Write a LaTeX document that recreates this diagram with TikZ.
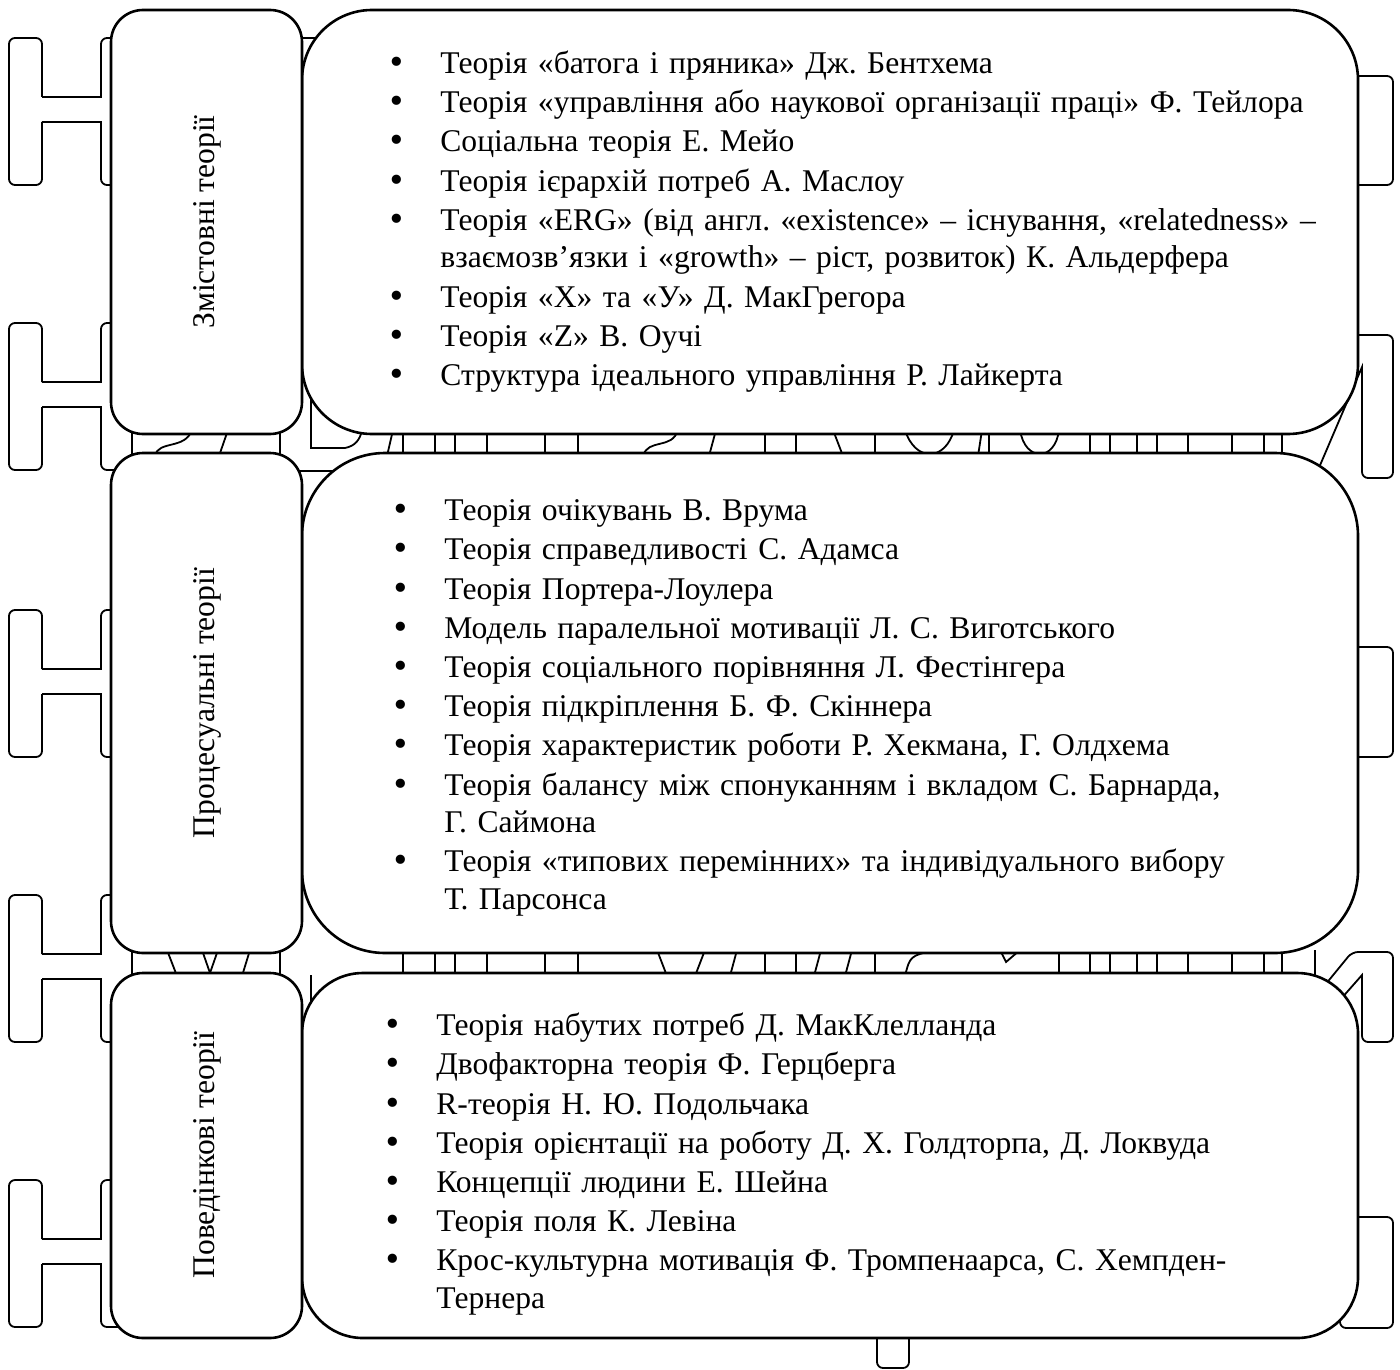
\documentclass[tikz,border=0pt]{standalone}
\usepackage{fontspec}
\setmainfont{Liberation Serif}
\newfontfamily\bulletfont{DejaVu Sans}
\usepackage{tikz}
\frenchspacing

\newcommand{\bul}{{\bulletfont •}}
\newenvironment{theories}{%
  \begin{list}{\bul}{%
    \setlength{\leftmargin}{0pt}%
    \setlength{\labelwidth}{14pt}%
    \setlength{\labelsep}{17pt}%
    \setlength{\itemsep}{0.8pt}%
    \setlength{\parsep}{0pt}%
    \setlength{\topsep}{0pt}}}%
  {\end{list}}

\begin{document}
\begin{tikzpicture}[x=0.5pt,y=-0.5pt,
  bgline/.style={draw=black,line width=0.9pt},
  lbox/.style={draw=black,fill=white,line width=1.3pt,rounded corners=16pt},
  rbox/.style={draw=black,fill=white,line width=1.3pt},
  side/.style={rotate=90,inner sep=0pt,font=\fontsize{15.8pt}{18.8pt}\selectfont},
  items/.style={anchor=base west,inner sep=0pt,text width=480pt,font=\fontsize{15.8pt}{18.8pt}\selectfont}]
\useasboundingbox (0,0) rectangle (1400,1369);

% outlined letters behind the boxes
\foreach \t in {38,323,610,895,1180} {
    \draw[bgline,rounded corners=3pt] (42,\t+59) -- (42,\t) -- (9,\t) -- (9,\t+147) -- (42,\t+147) -- (42,\t+84);
    \draw[bgline] (42,\t+59) -- (101,\t+59) -- (101,\t+20);
    \draw[bgline] (42,\t+84) -- (101,\t+84) -- (101,\t+127);
    \draw[bgline,rounded corners=3pt] (101,\t+20) -- (101,\t) -- (132,\t) -- (132,\t+147) -- (101,\t+147) -- (101,\t+127);
}

% strip between first and second row
\draw[bgline] (280,430) -- (280,456);
\draw[bgline] (155,456) .. controls (158,440) and (185,450) .. (192,430);
\draw[bgline] (219,456) -- (228,430);
\foreach \x in {403,435,455,487,545,578,765,796,875,1090,1110,1137,1157,1188,1232,1264,1282}
    \draw[bgline] (\x,430) -- (\x,456);
\draw[bgline] (393,430) -- (387,456);
\draw[bgline] (643,456) .. controls (648,438) and (672,450) .. (678,430);
\draw[bgline] (709,456) -- (716,430);
\draw[bgline] (833,430) -- (843,456);
\draw[bgline] (905,430) .. controls (915,462) and (945,462) .. (954,430);
\draw[bgline] (978,456) -- (982,430);
\draw[bgline] (989,430) -- (989,456);
\draw[bgline] (1020,430) .. controls (1025,462) and (1055,462) .. (1059,430);

% strip between second and third row
\draw[bgline] (280,950) -- (280,976);
\draw[bgline] (167,950) -- (177,976);
\draw[bgline] (202,950) -- (210,973) -- (218,950);
\draw[bgline] (250,950) -- (242,976);
\foreach \x in {403,435,455,487,545,578,765,796,875,1059,1090,1110,1137,1157,1188,1232,1264,1282,1315}
    \draw[bgline] (\x,950) -- (\x,976);
\draw[bgline] (657,950) -- (667,976);
\draw[bgline] (705,950) -- (695,976);
\draw[bgline] (737,950) -- (730,976);
\draw[bgline] (821,950) -- (814,976);
\draw[bgline] (852,950) -- (845,976);
\draw[bgline] (905,976) .. controls (910,956) .. (935,950);
\draw[bgline] (1000,950) -- (1006,962) -- (1020,950);

% bits in the corners
\draw[bgline] (300,38) -- (330,38);
\draw[bgline] (311,380) -- (311,448) -- (345,448) .. controls (355,446) and (360,440) .. (362,430);
\draw[bgline] (300,471) -- (335,471);
\draw[bgline] (311,975) -- (311,1015);

% right hand side
\draw[bgline,rounded corners=3pt] (1340,76) rectangle (1393,185);
\draw[bgline,rounded corners=3pt] (1340,647) rectangle (1393,757);
\draw[bgline,rounded corners=3pt] (1340,1217) rectangle (1393,1328);
\draw[bgline,rounded corners=3pt] (1340,335) -- (1393,335) -- (1393,478) -- (1362,478) -- (1362,420);
\draw[bgline] (1362,420) -- (1362,367) -- (1315,477);
\draw[bgline,rounded corners=3pt] (1325,985) -- (1352,952) -- (1393,952) -- (1393,1042) -- (1362,1042) -- (1362,1000);
\draw[bgline] (1362,1000) -- (1362,975) -- (1340,1000);
\draw[bgline,rounded corners=3pt] (877,1330) -- (877,1368) -- (909,1368) -- (909,1330);

% boxes
\draw[rbox,rounded corners=35pt] (302,10) rectangle (1358,434);
\draw[rbox,rounded corners=41.5pt] (302,453) rectangle (1358,953);
\draw[rbox,rounded corners=30.5pt] (302,973) rectangle (1358,1338);
\draw[lbox] (111,10) rectangle (302,434);
\draw[lbox] (111,453) rectangle (302,953);
\draw[lbox] (111,973) rectangle (302,1338);

\node[side] (zmist) at (207,222) {Змістовні теорії};
\node[side] (proces) at (207,703) {Процесуальні теорії};
\node[side] (povedin) at (207,1155) {Поведінкові теорії};

\node[items] (zmistlist) at (440,36) {\begin{theories}
\item Теорія «батога і пряника» Дж. Бентхема
\item Теорія «управління або наукової організації праці» Ф. Тейлора
\item Соціальна теорія Е. Мейо
\item Теорія ієрархій потреб А. Маслоу
\item Теорія «ERG» (від англ. «existence» – існування, «relatedness» –\newline взаємозв’язки і «growth» – ріст, розвиток) К. Альдерфера
\item Теорія «Х» та «У» Д. МакГрегора
\item Теорія «Z» В. Оучі
\item Структура ідеального управління Р. Лайкерта
\end{theories}};

\node[items] (proceslist) at (444,483) {\begin{theories}
\item Теорія очікувань В. Врума
\item Теорія справедливості С. Адамса
\item Теорія Портера-Лоулера
\item Модель паралельної мотивації Л. С. Виготського
\item Теорія соціального порівняння Л. Фестінгера
\item Теорія підкріплення Б. Ф. Скіннера
\item Теорія характеристик роботи Р. Хекмана, Г. Олдхема
\item Теорія балансу між спонуканням і вкладом С. Барнарда,\newline Г. Саймона
\item Теорія «типових перемінних» та індивідуального вибору\newline Т. Парсонса
\end{theories}};

\node[items] (povedinlist) at (436,998) {\begin{theories}
\item Теорія набутих потреб Д. МакКлелланда
\item Двофакторна теорія Ф. Герцберга
\item R-теорія Н. Ю. Подольчака
\item Теорія орієнтації на роботу Д. Х. Голдторпа, Д. Локвуда
\item Концепції людини Е. Шейна
\item Теорія поля К. Левіна
\item Крос-культурна мотивація Ф. Тромпенаарса, С. Хемпден-\newline Тернера
\end{theories}};
\end{tikzpicture}
\end{document}
